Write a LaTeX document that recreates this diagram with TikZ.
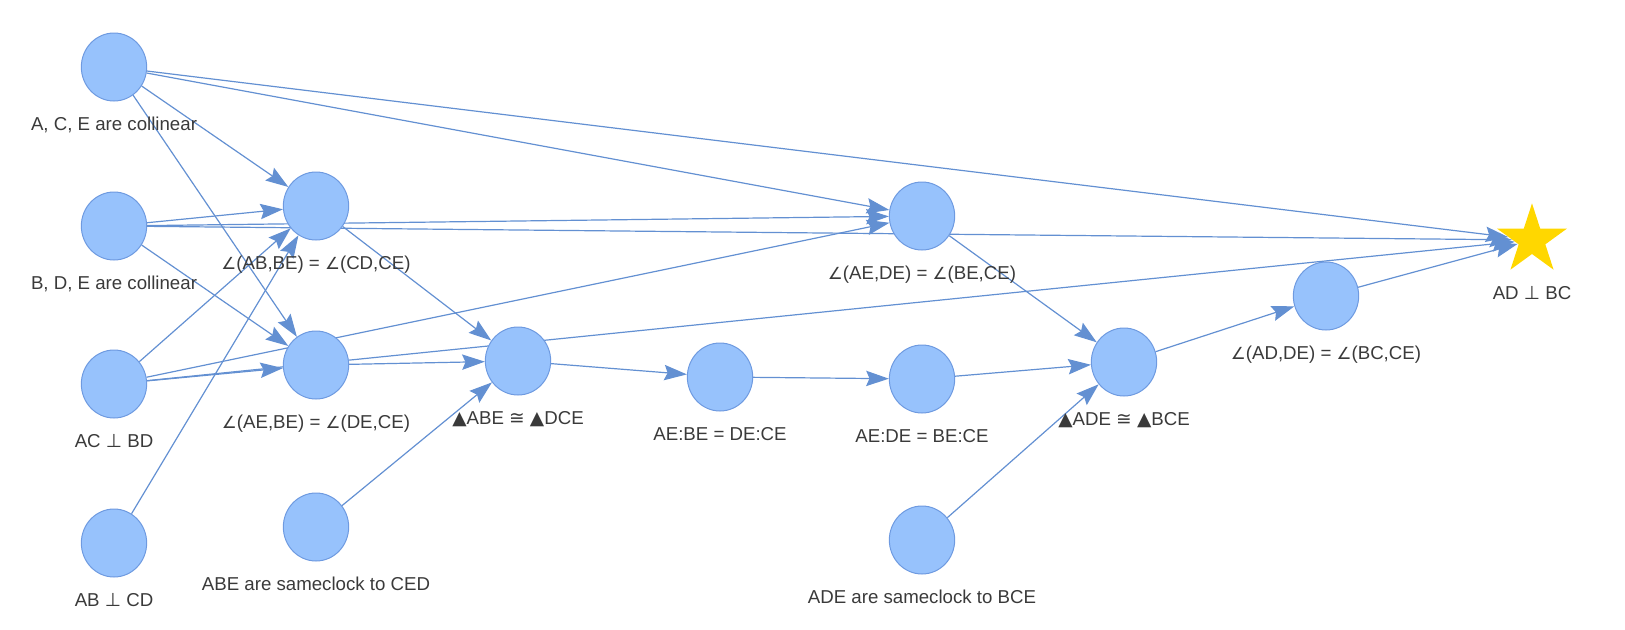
\documentclass[tikz,border=0pt]{standalone}
\usepackage{fontspec}
\setmainfont{Liberation Sans}
\newfontfamily\symfont{DejaVu Sans}
\usetikzlibrary{arrows.meta,shapes.geometric,backgrounds}
\definecolor{nodefill}{HTML}{97C2FC}
\definecolor{nodeline}{HTML}{6E9AE0}
\definecolor{edgecol}{HTML}{6390D2}
\definecolor{goldstar}{HTML}{FFD700}
\definecolor{txtcol}{HTML}{3A3A3A}
\newcommand{\ang}{{\symfont\fontsize{12.5}{14}\selectfont ∠}}
\newcommand{\perpto}{{\symfont ⊥}}
\newcommand{\tri}{{\symfont ▲}}
\newcommand{\congto}{{\symfont ≅}}
\begin{document}
\begin{tikzpicture}[x=0.75pt,y=-0.75pt,>={Stealth[length=17pt,width=11.5pt,inset=2.5pt]},
  fact/.style={ellipse,draw=nodeline,fill=nodefill,line width=0.75pt,minimum width=49pt,minimum height=51pt,inner sep=0pt},
  goal/.style={star,star points=5,star point ratio=2.618,fill=goldstar,minimum size=55pt,inner sep=0pt},
  lbl/.style={text=txtcol,font=\fontsize{14}{16}\selectfont,inner sep=0pt,text height=10pt,text depth=0pt},
  link/.style={->,color=edgecol,line width=0.9pt}]
\useasboundingbox (0,0) rectangle (1625,629);
% facts
\node[fact] (ace) at (114,67) {};
\node[fact] (bde) at (114,226) {};
\node[fact] (acbd) at (114,384) {};
\node[fact] (abcd) at (114,543) {};
\node[fact] (angab) at (316,206) {};
\node[fact] (angae) at (316,365) {};
\node[fact] (clkabe) at (316,527) {};
\node[fact] (triabe) at (518,361) {};
\node[fact] (ratbe) at (720,377) {};
\node[fact] (angde) at (922,216) {};
\node[fact] (ratde) at (922,379) {};
\node[fact] (clkade) at (922,540) {};
\node[fact] (triade) at (1124,362) {};
\node[fact] (angad) at (1326,296) {};
\node[goal] (adbc) at (1532,240) {};
% texts
\node[lbl] (ace-t) at (114,124) {A, C, E are collinear};
\node[lbl] (bde-t) at (114,283) {B, D, E are collinear};
\node[lbl] (acbd-t) at (114,441) {AC \perpto{} BD};
\node[lbl] (abcd-t) at (114,600) {AB \perpto{} CD};
\node[lbl] (angab-t) at (316,263) {\ang(AB,BE) = \ang(CD,CE)};
\node[lbl] (angae-t) at (316,422) {\ang(AE,BE) = \ang(DE,CE)};
\node[lbl] (clkabe-t) at (316,584) {ABE are sameclock to CED};
\node[lbl] (triabe-t) at (518,418) {\tri ABE \congto{} \tri DCE};
\node[lbl] (ratbe-t) at (720,434) {AE:BE = DE:CE};
\node[lbl] (angde-t) at (922,273) {\ang(AE,DE) = \ang(BE,CE)};
\node[lbl] (ratde-t) at (922,436) {AE:DE = BE:CE};
\node[lbl] (clkade-t) at (922,597) {ADE are sameclock to BCE};
\node[lbl] (triade-t) at (1124,419) {\tri ADE \congto{} \tri BCE};
\node[lbl] (angad-t) at (1326,353) {\ang(AD,DE) = \ang(BC,CE)};
\node[lbl] (adbc-t) at (1532,293) {AD \perpto{} BC};
% links
\begin{scope}[on background layer]
\path[link] (ace) edge (angab) edge (angae) edge (angde) edge (adbc);
\path[link] (bde) edge (angab) edge (angae) edge (angde) edge (adbc);
\path[link] (acbd) edge (angab) edge (angae) edge (angde) edge (adbc);
\path[link] (abcd) edge (angab);
\path[link] (angab) edge (triabe) (angae) edge (triabe) (clkabe) edge (triabe);
\path[link] (triabe) edge (ratbe) (ratbe) edge (ratde) (ratde) edge (triade);
\path[link] (angde) edge (triade) (clkade) edge (triade);
\path[link] (triade) edge (angad) (angad) edge (adbc);
\end{scope}
\end{tikzpicture}
\end{document}
